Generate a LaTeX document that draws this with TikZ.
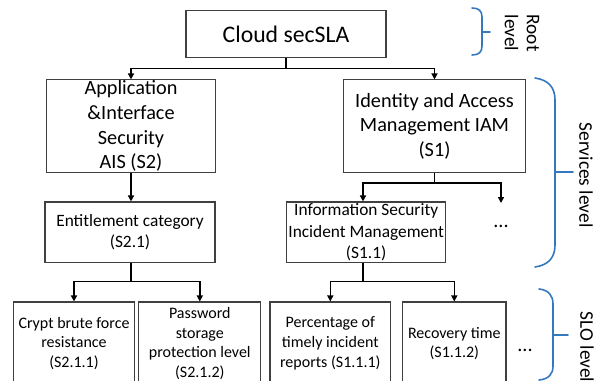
\documentclass[tikz,border=0pt]{standalone}
\usepackage{fontspec}
\setmainfont{Carlito}
\usetikzlibrary{arrows.meta}
\definecolor{bracecol}{RGB}{52,120,190}
\definecolor{boxline}{RGB}{64,64,64}
\begin{document}
\begin{tikzpicture}[x=0.75pt,y=-0.75pt,
  box/.style={draw=boxline,line width=0.8pt,inner sep=0pt,align=center,fill=white},
  rootfont/.style={font=\fontsize{17.8}{21}\selectfont},
  bigfont/.style={font=\fontsize{15.2}{18.5}\selectfont},
  midfont/.style={font=\fontsize{13}{16.2}\selectfont},
  smallfont/.style={font=\fontsize{12}{14.8}\selectfont},
  lab/.style={font=\fontsize{14.5}{16.5}\selectfont,align=center,inner sep=0pt,rotate=-90},
  conn/.style={draw=black,line width=1.1pt,-{Triangle[length=4.5pt,width=4.5pt]}},
  brace/.style={draw=bracecol,line width=1.2pt,line cap=round}
]
\useasboundingbox (0,0) rectangle (606,381);
\clip (0,0) rectangle (606,381);

% boxes
\node[box,rootfont,minimum width=150pt,minimum height=35.25pt] (root) at (286,34.2) {Cloud secSLA};
\node[box,bigfont,minimum width=126.2pt,minimum height=69.5pt] (ais) at (131,126.3) {Application\\\&Interface\\Security\\AIS (S2)};
\node[box,bigfont,minimum width=136.5pt,minimum height=69.5pt] (iam) at (434.5,126.3) {Identity and Access\\Management IAM\\(S1)};
\node[box,midfont,minimum width=127.5pt,minimum height=45.5pt] (ent) at (130,232.3) {Entitlement category\\(S2.1)};
\node[box,midfont,minimum width=119.2pt,minimum height=45.5pt] (isim) at (366.2,232.3) {Information Security\\Incident Management\\(S1.1)};
\node[box,smallfont,minimum width=90.2pt,minimum height=62.25pt] (crypt) at (74,343.5) {Crypt brute force\\resistance\\(S2.1.1)};
\node[box,smallfont,minimum width=91.3pt,minimum height=62.25pt] (pwd) at (199.8,343.5) {Password\\storage\\protection level\\(S2.1.2)};
\node[box,smallfont,minimum width=90.5pt,minimum height=62.25pt] (pct) at (330.3,343.5) {Percentage of\\timely incident\\reports (S1.1.1)};
\node[box,smallfont,minimum width=77.5pt,minimum height=62.25pt] (rec) at (454.3,343.5) {Recovery time\\(S1.1.2)};

% dots
\node[bigfont,inner sep=0pt] (dots1) at (501,226) {...};
\node[bigfont,inner sep=0pt] (dots2) at (525,350) {...};
\coordinate (dotsin) at (501,203);

% junctions
\coordinate (j1) at (286,68.3);
\coordinate (j2) at (434.5,183);
\coordinate (j3) at (131,281.7);
\coordinate (j4) at (363,281.3);

% connectors
\draw[conn] (root.south) -- (j1) -| (ais.north);
\draw[conn] (j1) -| (iam.north);
\draw[conn] (ais.south) -- (ais.south |- ent.north);
\draw[conn] (iam.south) -- (j2) -| ([xshift=-2.4pt]isim.north);
\draw[conn] (j2) -| (dotsin);
\draw[conn] ([xshift=0.75pt]ent.south) -- (j3) -| (crypt.north);
\draw[conn] (j3) -| (pwd.north);
\draw[conn] ([xshift=-2.4pt]isim.south) -- (j4) -| (pct.north);
\draw[conn] (j4) -| (rec.north);

% braces
\draw[brace] (472,8) .. controls (479,8) and (482,11) .. (482,17) -- (482,46) .. controls (482,52) and (479,55) .. (472,55);
\draw[brace] (482,32) -- (490,32);
\draw[brace] (535,78) .. controls (549,80) and (555,88) .. (555,100) -- (555,245) .. controls (555,257) and (549,265) .. (535,267);
\draw[brace] (555,172) -- (573,172);
\draw[brace] (539,289) .. controls (549,290) and (553,296) .. (553,304) -- (553,366) .. controls (553,374) and (549,379) .. (539,380);
\draw[brace] (553,335) -- (568,335);

% level labels
\node[lab] (rootlab) at (522,33) {Root\\level};
\node[lab] (svclab) at (586,175) {Services level};
\node[lab] (slolab) at (587,347) {SLO level};
\end{tikzpicture}
\end{document}
